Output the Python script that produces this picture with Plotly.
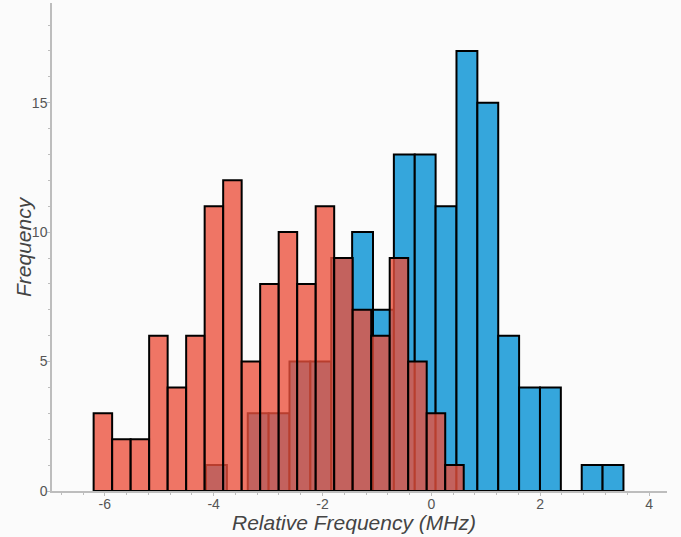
import plotly.graph_objects as go

# Histogram data (bin start, bin width, counts)
red_start = -6.205
red_width = 0.34
red_counts = [3, 2, 2, 6, 4, 6, 11, 12, 5, 8, 10, 8, 11, 9, 7, 6, 9, 5, 3, 1]

blue_start = -4.14
blue_width = 0.3835
blue_counts = [1, 0, 3, 3, 5, 5, 9, 10, 7, 13, 13, 11, 17, 15, 6, 4, 4, 0, 1, 1]

x_ticks = [-6, -4, -2, 0, 2, 4]
y_ticks = [0, 5, 10, 15]

x_title = "Relative Frequency (MHz)"
y_title = "Frequency"

red_x = [red_start + red_width * (i + 0.5) for i in range(len(red_counts))]
blue_x = [blue_start + blue_width * (i + 0.5) for i in range(len(blue_counts))]

fig = go.Figure()
fig.add_trace(go.Bar(
    x=blue_x, y=blue_counts, width=blue_width,
    marker=dict(color="rgb(53,166,220)", line=dict(color="black", width=2)),
    showlegend=False, hoverinfo="x+y",
))
fig.add_trace(go.Bar(
    x=red_x, y=red_counts, width=red_width,
    marker=dict(color="rgba(236,80,59,0.78)", line=dict(color="black", width=2)),
    showlegend=False, hoverinfo="x+y",
))

axis_col = "#bdbdbd"
title_font = dict(size=21, color="#444", family="Liberation Sans, Arial, sans-serif", style="italic")
fig.update_layout(
    width=681, height=537,
    barmode="overlay",
    paper_bgcolor="#fbfbfb", plot_bgcolor="#fbfbfb",
    margin=dict(l=52, r=14, t=3, b=46, autoexpand=False),
    font=dict(family="Liberation Sans, Arial, sans-serif", color="#555"),
    annotations=[
        dict(text=x_title, xref="paper", yref="paper", x=0.5, y=0,
             xanchor="center", yanchor="middle", yshift=-31, xshift=-6,
             showarrow=False, font=title_font),
        dict(text=y_title, xref="paper", yref="paper", x=0, y=0.5,
             xanchor="center", yanchor="middle", xshift=-29, textangle=-90,
             showarrow=False, font=title_font),
    ],
)
fig.update_xaxes(
    range=[-6.97, 4.33],
    tickvals=x_ticks, ticktext=[str(v) for v in x_ticks],
    showgrid=False, zeroline=False,
    showline=True, linecolor=axis_col, linewidth=1.5,
    ticks="outside", ticklen=3, tickcolor=axis_col,
    minor=dict(dtick=0.4, tick0=-6, ticks="outside", ticklen=2, tickcolor=axis_col),
    tickfont=dict(size=14, color="#555"),
    ticklabelstandoff=-4,
    automargin=False,
)
fig.update_yaxes(
    range=[0, 18.85],
    tickvals=y_ticks, ticktext=[str(v) for v in y_ticks],
    showgrid=False, zeroline=False,
    showline=True, linecolor=axis_col, linewidth=1.5,
    ticks="outside", ticklen=3, tickcolor=axis_col,
    minor=dict(dtick=1, tick0=0, ticks="outside", ticklen=2, tickcolor=axis_col),
    tickfont=dict(size=14, color="#555"),
    ticklabelstandoff=-3,
    automargin=False,
)

fig.write_html("out.html", config={"displayModeBar": False},
               post_script="document.body.style.margin='0';")
